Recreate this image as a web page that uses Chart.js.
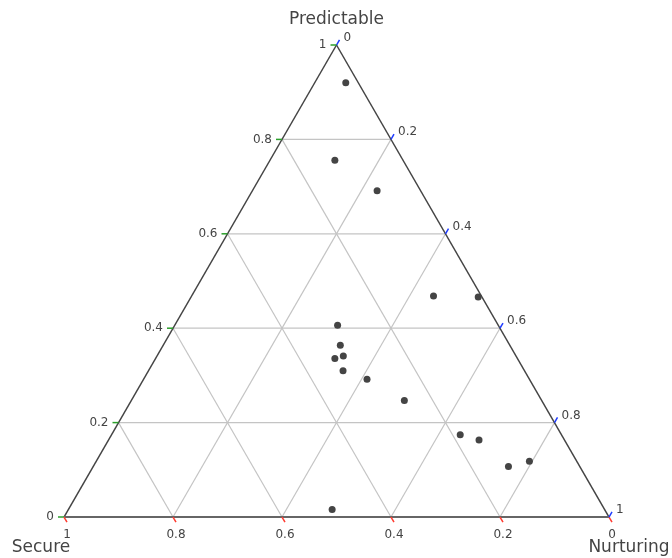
<!DOCTYPE html>
<html>
<head>
<meta charset="utf-8">
<script src="https://cdn.jsdelivr.net/npm/chart.js@4/dist/chart.umd.min.js"></script>
<style>
  body { margin: 0; background: #fff; }
  #wrap { width: 672px; height: 558px; }
</style>
</head>
<body>
<div id="wrap"><canvas id="chart" width="672" height="558"></canvas></div>
<script>
// ternary data, one value per point for each component
var predictable = [0.920, 0.756, 0.691, 0.468, 0.466, 0.406, 0.364, 0.336, 0.341, 0.310, 0.292, 0.247, 0.174, 0.163, 0.107, 0.118, 0.016];
var secure      = [0.023, 0.125, 0.080, 0.088, 0.007, 0.295, 0.311, 0.335, 0.317, 0.333, 0.298, 0.252, 0.186, 0.157, 0.131, 0.087, 0.500];
var nurturing   = [0.057, 0.119, 0.229, 0.444, 0.527, 0.299, 0.325, 0.329, 0.342, 0.357, 0.410, 0.501, 0.640, 0.680, 0.762, 0.795, 0.484];

var tickValues = [0, 0.2, 0.4, 0.6, 0.8, 1];
var tickLabels = ['0', '0.2', '0.4', '0.6', '0.8', '1'];
var axisTitles = ['Predictable', 'Secure', 'Nurturing'];

var H = Math.sqrt(3) / 2;

// a = predictable (top), b = secure (bottom left), c = nurturing (bottom right)
function toXY(a, b, c) {
    var s = a + b + c;
    a = a / s; c = c / s;
    return { x: c + a / 2, y: a * H };
}

var points = [];
for (var i = 0; i < predictable.length; i++) {
    points.push(toXY(predictable[i], secure[i], nurturing[i]));
}

var ternaryPlugin = {
    id: 'ternary',
    beforeDatasetsDraw: function (chart) {
        var ctx = chart.ctx;
        var xs = chart.scales.x, ys = chart.scales.y;
        function px(a, b, c) {
            var p = toXY(a, b, c);
            return [xs.getPixelForValue(p.x), ys.getPixelForValue(p.y)];
        }
        function line(p, q, color, width) {
            ctx.beginPath();
            ctx.moveTo(p[0], p[1]);
            ctx.lineTo(q[0], q[1]);
            ctx.strokeStyle = color;
            ctx.lineWidth = width;
            ctx.stroke();
        }
        ctx.save();

        // grid
        for (var k = 1; k < tickValues.length - 1; k++) {
            var v = tickValues[k];
            line(px(v, 1 - v, 0), px(v, 0, 1 - v), '#c4c4c4', 1.2);
            line(px(1 - v, v, 0), px(0, v, 1 - v), '#c4c4c4', 1.2);
            line(px(1 - v, 0, v), px(0, 1 - v, v), '#c4c4c4', 1.2);
        }

        // triangle outline
        var top = px(1, 0, 0), left = px(0, 1, 0), right = px(0, 0, 1);
        line(top, left, '#444', 1.5);
        line(top, right, '#444', 1.5);
        line(left, right, '#666', 2);

        // ticks and tick labels
        var len = 6;
        var dx = len * 0.5, dy = len * H;
        ctx.font = '12px "DejaVu Sans", Verdana, sans-serif';
        ctx.fillStyle = '#444';
        for (var t = 0; t < tickValues.length; t++) {
            var v = tickValues[t];
            // predictable: left edge
            var p = px(v, 1 - v, 0);
            line(p, [p[0] - len, p[1]], '#2ca02c', 1.5);
            ctx.textAlign = 'right';
            ctx.textBaseline = 'middle';
            ctx.fillText(tickLabels[t], p[0] - len - 4, p[1]);
            // secure: bottom edge
            p = px(0, v, 1 - v);
            line(p, [p[0] + dx, p[1] + dy], '#ff3b30', 1.5);
            ctx.textAlign = 'center';
            ctx.textBaseline = 'middle';
            ctx.fillText(tickLabels[t], p[0] + dx, p[1] + 18);
            // nurturing: right edge
            p = px(1 - v, 0, v);
            line(p, [p[0] + dx, p[1] - dy], '#1f3cff', 1.5);
            ctx.textAlign = 'left';
            ctx.textBaseline = 'middle';
            ctx.fillText(tickLabels[t], p[0] + dx + 4, p[1] - dy - 2);
        }

        // axis titles
        ctx.font = '17px "DejaVu Sans", Verdana, sans-serif';
        ctx.fillStyle = '#444';
        ctx.textBaseline = 'middle';
        ctx.textAlign = 'center';
        ctx.fillText(axisTitles[0], top[0], 20);
        ctx.fillText(axisTitles[1], left[0] - 23, 548);
        ctx.fillText(axisTitles[2], right[0] + 20, 548);

        ctx.restore();
    }
};

var chart = new Chart(document.getElementById('chart'), {
    type: 'scatter',
    data: {
        datasets: [{
            data: points,
            backgroundColor: '#444',
            borderWidth: 0,
            pointRadius: 3.5,
            pointHoverRadius: 3.5,
            clip: false
        }]
    },
    options: {
        responsive: false,
        animation: false,
        layout: { padding: { left: 64, right: 63, top: 45, bottom: 41 } },
        plugins: { legend: { display: false }, tooltip: { enabled: false } },
        scales: {
            x: { type: 'linear', min: 0, max: 1, display: false },
            y: { type: 'linear', min: 0, max: H, display: false }
        }
    },
    plugins: [ternaryPlugin]
});
</script>
</body>
</html>
